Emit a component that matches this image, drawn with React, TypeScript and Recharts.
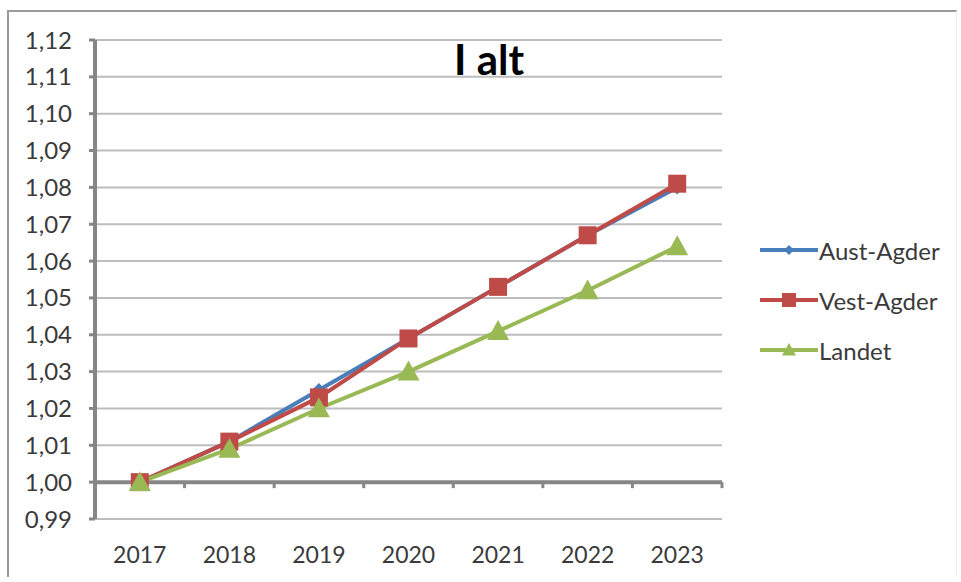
import React from 'react';
import { LineChart, Line, XAxis, YAxis, CartesianGrid, ReferenceLine } from 'recharts';

const years = ['2017', '2018', '2019', '2020', '2021', '2022', '2023'];
const austAgder = [1.0, 1.011, 1.025, 1.039, 1.053, 1.067, 1.08];
const vestAgder = [1.0, 1.011, 1.023, 1.039, 1.053, 1.067, 1.081];
const landet = [1.0, 1.009, 1.02, 1.03, 1.041, 1.052, 1.064];
const yTicks = [0.99, 1.0, 1.01, 1.02, 1.03, 1.04, 1.05, 1.06, 1.07, 1.08, 1.09, 1.1, 1.11, 1.12];

const data = years.map((year, i) => ({
  year,
  aust: austAgder[i],
  vest: vestAgder[i],
  landet: landet[i],
}));

const W = 947;
const H = 565;
const M = { top: 30, right: 232, bottom: 0, left: 0 };
const Y_W = 88;
const X_H = 56;
const PLOT_W = W - M.left - M.right - Y_W;
const PLOT_H = H - M.top - M.bottom - X_H;
const Y_MIN = 0.99;
const Y_MAX = 1.12;
const zeroY = M.top + ((Y_MAX - 1) / (Y_MAX - Y_MIN)) * PLOT_H;
const band = PLOT_W / years.length;

const AXIS = '#868686';
const GRID = '#bdbdbd';
const TEXT = '#3a3a3a';
const BLUE = '#4a7ebb';
const RED = '#be4b48';
const GREEN = '#98b954';
const FONT = 'Lato, "Noto Sans", sans-serif';

const Diamond = (props: any) => {
  const { cx, cy, fill, size = 6 } = props;
  if (cx == null || cy == null) return null;
  return <path d={`M${cx},${cy - size}L${cx + size},${cy}L${cx},${cy + size}L${cx - size},${cy}Z`} fill={fill} />;
};

const Square = (props: any) => {
  const { cx, cy, fill, size = 8 } = props;
  if (cx == null || cy == null) return null;
  return <rect x={cx - size} y={cy - size} width={size * 2} height={size * 2} fill={fill} />;
};

const Triangle = (props: any) => {
  const { cx, cy, fill, size = 9 } = props;
  if (cx == null || cy == null) return null;
  return <path d={`M${cx},${cy - size}L${cx + size},${cy + size * 0.8}L${cx - size},${cy + size * 0.8}Z`} fill={fill} />;
};

const XTick = (props: any) => {
  const { x, y, payload } = props;
  return (
    <g>
      <line x1={x + band / 2} x2={x + band / 2} y1={zeroY} y2={zeroY + 6} stroke={AXIS} strokeWidth={3} />
      <text x={x} y={y + 33} textAnchor="middle" dominantBaseline="central" fill={TEXT} fontSize={23} fontFamily={FONT}>
        {payload.value}
      </text>
    </g>
  );
};

const legendItems = [
  { name: 'Aust-Agder', color: BLUE, Marker: Diamond, size: 5 },
  { name: 'Vest-Agder', color: RED, Marker: Square, size: 7 },
  { name: 'Landet', color: GREEN, Marker: Triangle, size: 7 },
];

const ChartLegend = () => (
  <div style={{ position: 'absolute', left: 751, top: 213 }}>
    {legendItems.map(({ name, color, Marker, size }) => (
      <div key={name} style={{ display: 'flex', alignItems: 'center', height: 50 }}>
        <svg width={58} height={20}>
          <line x1={0} x2={58} y1={10} y2={10} stroke={color} strokeWidth={4} />
          <Marker cx={29} cy={10} fill={color} size={size} />
        </svg>
        <span style={{ fontFamily: FONT, fontSize: 24, color: TEXT, marginLeft: 1 }}>{name}</span>
      </div>
    ))}
  </div>
);

export default function App() {
  return (
    <div
      style={{
        position: 'absolute',
        left: 7,
        top: 10,
        width: W,
        height: H,
        borderLeft: '2px solid #9a9a9a',
        borderTop: '2px solid #9a9a9a',
        borderRight: '1px solid #eeeeee',
        background: '#fff',
      }}
    >
      <LineChart width={W} height={H} data={data} margin={M} style={{ position: 'absolute', left: -2, top: -2 }}>
        <CartesianGrid horizontal vertical={false} stroke={GRID} strokeWidth={2} />
        <XAxis
          dataKey="year"
          scale="band"
          height={X_H}
          axisLine={false}
          tickLine={false}
          tickSize={0}
          interval={0}
          tick={<XTick />}
        />
        <YAxis
          width={Y_W}
          domain={[Y_MIN, Y_MAX]}
          ticks={yTicks}
          interval={0}
          allowDataOverflow
          axisLine={{ stroke: AXIS, strokeWidth: 4 }}
          tickLine={{ stroke: AXIS, strokeWidth: 3 }}
          tickSize={6}
          tickMargin={17}
          tick={{ fill: TEXT, fontSize: 24, fontFamily: FONT }}
          tickFormatter={(v: number) => v.toFixed(2).replace('.', ',')}
        />
        <ReferenceLine y={1} stroke={AXIS} strokeWidth={4} />
        <Line
          dataKey="aust"
          name="Aust-Agder"
          stroke={BLUE}
          strokeWidth={4}
          dot={<Diamond fill={BLUE} size={7} />}
          isAnimationActive={false}
        />
        <Line
          dataKey="vest"
          name="Vest-Agder"
          stroke={RED}
          strokeWidth={4}
          dot={<Square fill={RED} size={9} />}
          isAnimationActive={false}
        />
        <Line
          dataKey="landet"
          name="Landet"
          stroke={GREEN}
          strokeWidth={4}
          dot={<Triangle fill={GREEN} size={11} />}
          isAnimationActive={false}
        />
      </LineChart>
      <ChartLegend />
      <div
        style={{
          position: 'absolute',
          left: 445,
          top: 26,
          fontFamily: FONT,
          fontWeight: 700,
          fontSize: 42,
          color: '#000',
          lineHeight: 1,
        }}
      >
        I alt
      </div>
    </div>
  );
}
